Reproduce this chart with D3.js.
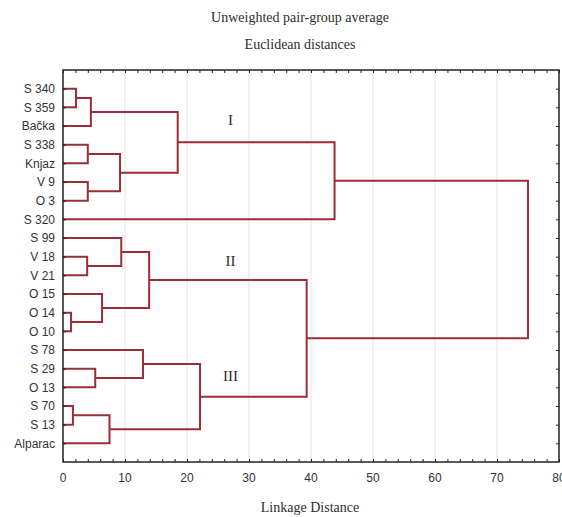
<!DOCTYPE html>
<html>
<head>
<meta charset="utf-8">
<script src="https://cdn.jsdelivr.net/npm/d3@7"></script>
<style>
  body { margin: 0; background: #fff; }
  svg { display: block; }
  .title, .axis-title, .group-label { font-family: "Liberation Serif", "Times New Roman", serif; fill: #2e2e2e; }
  .tick-label { font-family: "Liberation Sans", Arial, sans-serif; fill: #333; font-size: 12px; }
</style>
</head>
<body>
<div id="chart"></div>
<script>
// Leaves, top to bottom
const leaves = [
  "S 340", "S 359", "Bačka", "S 338", "Knjaz", "V 9", "O 3", "S 320",
  "S 99", "V 18", "V 21", "O 15", "O 14", "O 10",
  "S 78", "S 29", "O 13", "S 70", "S 13", "Alparac"
];

// Merges: [id, left child, right child, linkage distance]
const merges = [
  ["a", "S 340", "S 359", 2.1],
  ["b", "a", "Bačka", 4.5],
  ["c", "S 338", "Knjaz", 4.0],
  ["d", "V 9", "O 3", 4.0],
  ["e", "c", "d", 9.2],
  ["f", "b", "e", 18.5],
  ["I", "f", "S 320", 43.8],
  ["g", "V 18", "V 21", 3.9],
  ["h", "S 99", "g", 9.4],
  ["i", "O 14", "O 10", 1.3],
  ["j", "O 15", "i", 6.3],
  ["II", "h", "j", 13.9],
  ["k", "S 29", "O 13", 5.2],
  ["l", "S 78", "k", 12.9],
  ["m", "S 70", "S 13", 1.6],
  ["n", "m", "Alparac", 7.5],
  ["III", "l", "n", 22.1],
  ["o", "II", "III", 39.3],
  ["root", "I", "o", 75.0]
];

// Roman numeral group labels: [text, x in distance units, anchor leaf row]
const groupLabels = [
  ["I", 27, 1.75],
  ["II", 27, 9.3],
  ["III", 27, 15.5]
];

const xTicks = [0, 10, 20, 30, 40, 50, 60, 70, 80];
const xMinorTicks = d3.range(0, 81, 2);

const W = 562, H = 517;
const M = { top: 70, right: 3, bottom: 55, left: 63 };
const COLOR = "#9b2c38";

const svg = d3.select("#chart").append("svg")
  .attr("width", W).attr("height", H);

const x = d3.scaleLinear().domain([0, 80]).range([M.left, W - M.right]);
const y = d3.scalePoint().domain(leaves).range([M.top, H - M.bottom]).padding(1);
const yRow = d3.scaleLinear().domain([0, leaves.length - 1]).range([y(leaves[0]), y(leaves[leaves.length - 1])]);

// titles
svg.append("text").attr("class", "title")
  .attr("x", 300).attr("y", 22).attr("text-anchor", "middle")
  .attr("font-size", 14).text("Unweighted pair-group average");
svg.append("text").attr("class", "title")
  .attr("x", 300).attr("y", 49).attr("text-anchor", "middle")
  .attr("font-size", 14).text("Euclidean distances");
svg.append("text").attr("class", "axis-title")
  .attr("x", 310).attr("y", 512).attr("text-anchor", "middle")
  .attr("font-size", 14).text("Linkage Distance");

// gridlines
svg.append("g").selectAll("line")
  .data(xTicks.filter(d => d > 0 && d < 80))
  .join("line")
  .attr("x1", d => x(d)).attr("x2", d => x(d))
  .attr("y1", M.top).attr("y2", H - M.bottom)
  .attr("stroke", "#e4e4e4").attr("stroke-width", 1);

// dendrogram
const pos = new Map();
leaves.forEach(l => pos.set(l, { x: 0, y: y(l) }));
const g = svg.append("g").attr("fill", "none").attr("stroke", COLOR).attr("stroke-width", 2);
merges.forEach(([id, a, b, h]) => {
  const pa = pos.get(a), pb = pos.get(b);
  const path = d3.path();
  path.moveTo(x(pa.x), pa.y);
  path.lineTo(x(h), pa.y);
  path.lineTo(x(h), pb.y);
  path.lineTo(x(pb.x), pb.y);
  g.append("path").attr("d", path.toString());
  pos.set(id, { x: h, y: (pa.y + pb.y) / 2 });
});

// group labels
svg.append("g").selectAll("text")
  .data(groupLabels)
  .join("text")
  .attr("class", "group-label")
  .attr("x", d => x(d[1])).attr("y", d => yRow(d[2]))
  .attr("text-anchor", "middle").attr("dominant-baseline", "middle")
  .attr("font-size", 15)
  .text(d => d[0]);

// frame
svg.append("rect")
  .attr("x", M.left).attr("y", M.top)
  .attr("width", x(80) - M.left).attr("height", H - M.bottom - M.top)
  .attr("fill", "none").attr("stroke", "#222").attr("stroke-width", 1.5);

// bottom axis (ticks inward)
const axB = svg.append("g").attr("transform", `translate(0,${H - M.bottom})`)
  .call(d3.axisBottom(x).tickValues(xMinorTicks).tickSize(-3).tickFormat(""));
axB.select(".domain").remove();
axB.selectAll("line").attr("stroke", "#222");
svg.append("g").selectAll("text")
  .data(xTicks)
  .join("text")
  .attr("class", "tick-label")
  .attr("x", d => x(d)).attr("y", H - M.bottom + 20)
  .attr("text-anchor", "middle")
  .text(d => d);

// top axis (ticks inward)
const axT = svg.append("g").attr("transform", `translate(0,${M.top})`)
  .call(d3.axisTop(x).tickValues(xMinorTicks).tickSize(-3).tickFormat(""));
axT.select(".domain").remove();
axT.selectAll("line").attr("stroke", "#222");

// left axis with leaf labels
const axL = svg.append("g").attr("transform", `translate(${M.left},0)`)
  .call(d3.axisLeft(y).tickSize(-3).tickPadding(8));
axL.select(".domain").remove();
axL.selectAll("line").attr("stroke", "#222");
axL.selectAll("text").attr("class", "tick-label").attr("font-size", null).attr("font-family", null);

// right axis ticks
const axR = svg.append("g").attr("transform", `translate(${x(80)},0)`)
  .call(d3.axisRight(y).tickSize(-3).tickFormat(""));
axR.select(".domain").remove();
axR.selectAll("line").attr("stroke", "#222");
</script>
</body>
</html>
